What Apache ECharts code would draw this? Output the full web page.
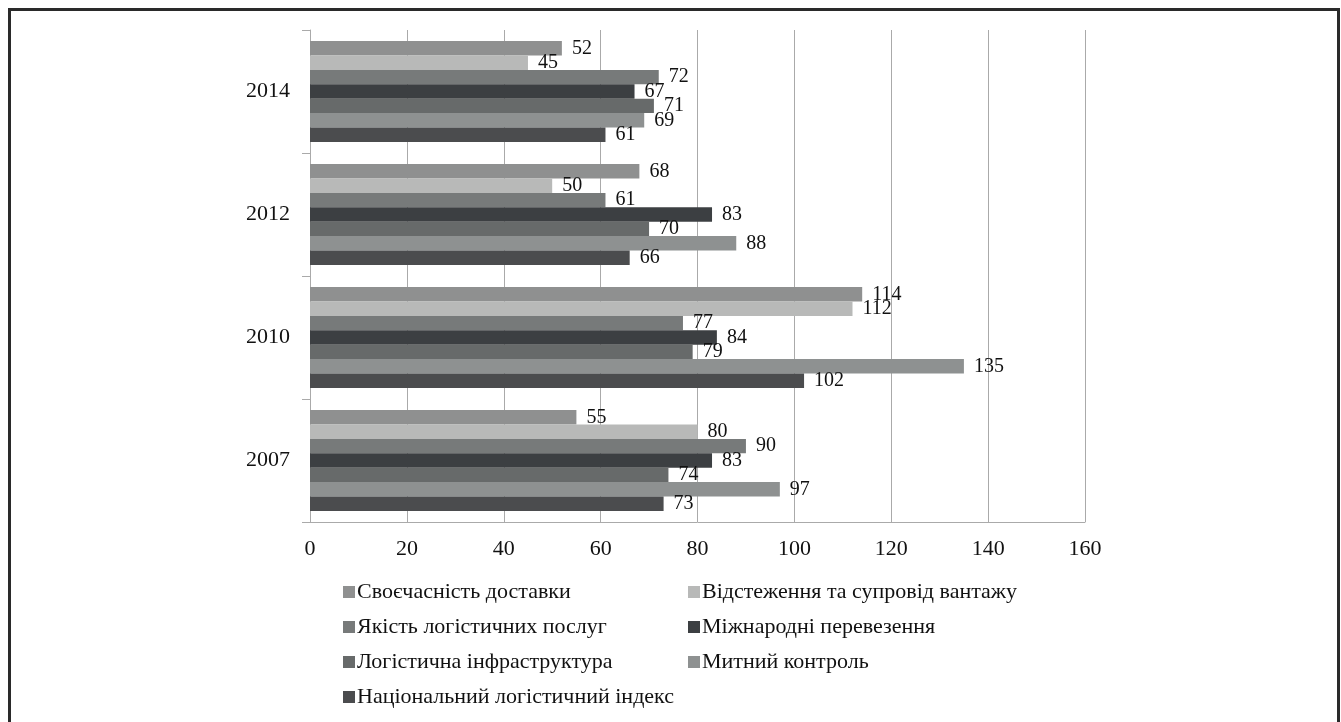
<!DOCTYPE html>
<html>
<head>
<meta charset="utf-8">
<script src="https://cdn.jsdelivr.net/npm/echarts@6/dist/echarts.min.js"></script>
<style>
  html, body { margin: 0; padding: 0; background: #fff; }
  #chart { width: 1341px; height: 722px; }
</style>
</head>
<body>
<div id="chart"></div>
<script>
// Years on the category axis (bottom to top)
const years = ['2007', '2010', '2012', '2014'];

// Indicator names, in legend order
const names = [
  'Своєчасність доставки',
  'Відстеження та супровід вантажу',
  'Якість логістичних послуг',
  'Міжнародні перевезення',
  'Логістична інфраструктура',
  'Митний контроль',
  'Національний логістичний індекс'
];

// Values per indicator, one entry per year (2007, 2010, 2012, 2014)
const timeliness     = [55, 114, 68, 52];
const tracking       = [80, 112, 50, 45];
const serviceQuality = [90, 77, 61, 72];
const intlShipments  = [83, 84, 83, 67];
const infrastructure = [74, 79, 70, 71];
const customs        = [97, 135, 88, 69];
const lpiIndex       = [73, 102, 66, 61];

const valueTicks = [0, 20, 40, 60, 80, 100, 120, 140, 160];

const colors = ['#8f9090', '#b8b9b8', '#777a7a', '#3c3f42', '#676a6a', '#8e9191', '#4b4c4e'];
const seriesValues = [timeliness, tracking, serviceQuality, intlShipments, infrastructure, customs, lpiIndex];

const font = '"Liberation Serif", "DejaVu Serif", serif';

// First series sits at the top of each year group
const series = names.map((name, i) => ({
  name: name,
  type: 'bar',
  data: seriesValues[i],
  barGap: '0%',
  barCategoryGap: '18%',
  itemStyle: { color: colors[i] },
  label: {
    show: true,
    position: 'right',
    distance: 10,
    color: '#111',
    fontFamily: font,
    fontSize: 20
  },
  animation: false
}));

const legendText = { color: '#111', fontFamily: font, fontSize: 22, lineHeight: 22, padding: [0, 0, 0, -3] };

const chart = echarts.init(document.getElementById('chart'));
chart.setOption({
  animation: false,
  grid: { left: 310, right: 256, top: 30, bottom: 200, containLabel: false },
  xAxis: {
    type: 'value',
    min: valueTicks[0],
    max: valueTicks[valueTicks.length - 1],
    interval: valueTicks[1] - valueTicks[0],
    axisLine: { show: true, lineStyle: { color: '#aaa', width: 1 } },
    axisTick: { show: false },
    splitLine: { show: true, lineStyle: { color: '#aaa', width: 1 } },
    axisLabel: { color: '#111', fontFamily: font, fontSize: 22, margin: 16 }
  },
  yAxis: {
    type: 'category',
    data: years,
    axisLine: { show: true, lineStyle: { color: '#aaa', width: 1 } },
    axisTick: { show: true, length: 8, lineStyle: { color: '#aaa' } },
    axisLabel: { color: '#111', fontFamily: font, fontSize: 22, margin: 20 }
  },
  legend: [
    {
      orient: 'vertical',
      left: 338,
      top: 576,
      itemWidth: 12,
      itemHeight: 12,
      itemGap: 13,
      icon: 'rect',
      data: [names[0], names[2], names[4], names[6]],
      textStyle: legendText
    },
    {
      orient: 'vertical',
      left: 683,
      top: 576,
      itemWidth: 12,
      itemHeight: 12,
      itemGap: 13,
      icon: 'rect',
      data: [names[1], names[3], names[5]],
      textStyle: legendText
    }
  ],
  graphic: [
    {
      type: 'polyline',
      shape: { points: [[9.5, 722], [9.5, 9.5], [1338.5, 9.5], [1338.5, 722]] },
      style: { stroke: '#2a2a2a', lineWidth: 3, fill: null },
      silent: true
    }
  ],
  series: series
});
</script>
</body>
</html>
